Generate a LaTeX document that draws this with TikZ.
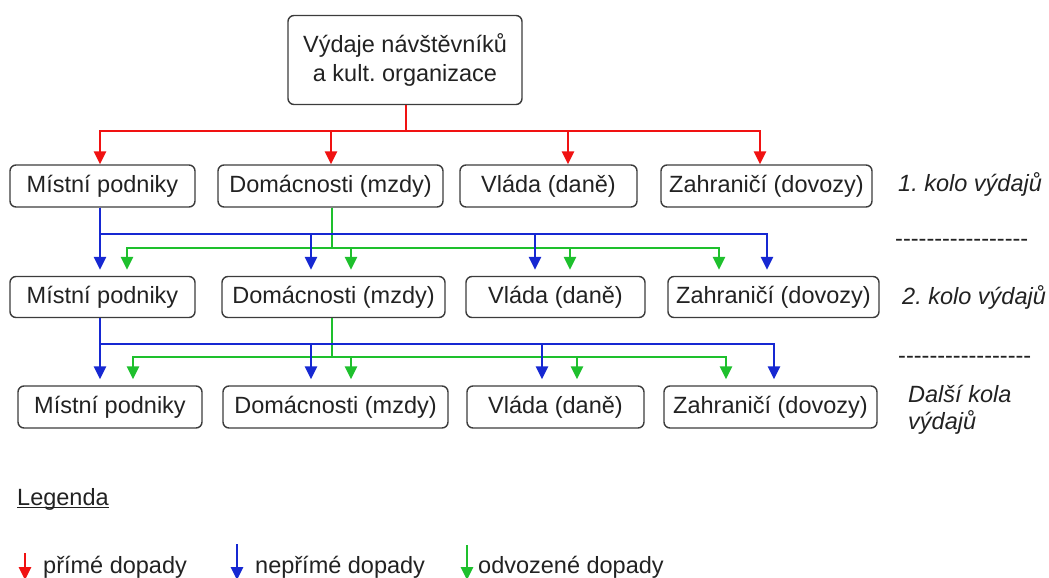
\documentclass[tikz,border=0pt]{standalone}
\usepackage{fontspec}
\setmainfont{Liberation Sans}
\usetikzlibrary{arrows.meta}
\definecolor{cred}{RGB}{240,18,18}
\definecolor{cblue}{RGB}{22,40,210}
\definecolor{cgreen}{RGB}{30,192,45}
\definecolor{ctext}{RGB}{34,34,34}
\definecolor{cframe}{RGB}{60,60,60}
\newcommand\hy{\hbox{-}}
\newcommand\hyline{\hy\hy\hy\hy\hy\hy\hy\hy\hy\hy\hy\hy\hy\hy\hy\hy\hy}
\frenchspacing
\begin{document}
\begin{tikzpicture}[x=1pt,y=-1pt,
  txt/.style={text=ctext, font=\fontsize{23.5}{29}\selectfont\frenchspacing},
  box/.style={txt, draw=cframe, line width=1.4pt, rounded corners=6pt, inner sep=0pt, minimum height=42pt},
  lbl/.style={txt, inner sep=0pt, anchor=base west, font=\fontsize{23.5}{27}\selectfont\itshape\frenchspacing},
  leg/.style={txt, inner sep=0pt, anchor=base west},
  arr/.style={line width=2.9pt, -{Triangle[length=13pt,width=12pt]}},
  rd/.style={arr, draw=cred},
  bl/.style={arr, draw=cblue, shorten >=6pt},
  gr/.style={arr, draw=cgreen, shorten >=6pt},
  lrd/.style={arr, draw=cred},
  lbl2/.style={arr, draw=cblue},
  lgr/.style={arr, draw=cgreen}
]
\useasboundingbox (0,0) rectangle (1049,578);

% top box
\node[box, minimum width=234pt, minimum height=89pt, align=center] (top) at (405,60) {Výdaje návštěvníků\\a kult. organizace};
\path[use as bounding box] (0,0) rectangle (1049,578);

% row 1
\node[box, minimum width=185pt] (A1) at (102.5,186) {Místní podniky};
\node[box, minimum width=225pt] (B1) at (330.5,186) {Domácnosti (mzdy)};
\node[box, minimum width=177pt] (C1) at (548.5,186) {Vláda (daně)};
\node[box, minimum width=211pt] (D1) at (766.5,186) {Zahraničí (dovozy)};
% row 2
\node[box, minimum width=185pt, minimum height=41pt] (A2) at (102.5,297) {Místní podniky};
\node[box, minimum width=223pt, minimum height=41pt] (B2) at (333.5,297) {Domácnosti (mzdy)};
\node[box, minimum width=179pt, minimum height=41pt] (C2) at (555.5,297) {Vláda (daně)};
\node[box, minimum width=211pt, minimum height=41pt] (D2) at (773.5,297) {Zahraničí (dovozy)};
% row 3
\node[box, minimum width=184pt] (A3) at (110,407) {Místní podniky};
\node[box, minimum width=225pt] (B3) at (335.5,407) {Domácnosti (mzdy)};
\node[box, minimum width=177pt] (C3) at (555.5,407) {Vláda (daně)};
\node[box, minimum width=213pt] (D3) at (770.5,407) {Zahraničí (dovozy)};

% right labels
\node[lbl] (k1) at (898,191) {1. kolo výdajů};
\node[leg] (h1) at (895,246) {\hyline};
\node[lbl] (k2) at (902,304) {2. kolo výdajů};
\node[leg] (h2) at (898,363) {\hyline};
\node[lbl, align=left, anchor=north west] (k3) at (908,385) {Další kola\\výdajů};

% red: direct
\coordinate (r0) at (406,131);
\foreach \x/\n in {100/A1,331/B1,568/C1,760/D1}
  \draw[rd] (top.south -| r0) -- (r0) -| (\x,0 |- \n.north);

% round 1 -> 2
\coordinate (g1) at (332,248);
\foreach \x/\n in {127/A2,351/B2,570/C2,719/D2}
  \draw[gr] (332,0 |- B1.south) -- (g1) -| (\x,0 |- \n.north);
\coordinate (b1) at (100,234);
\foreach \x/\n in {100/A2,311/B2,535/C2,767/D2}
  \draw[bl] (100,0 |- A1.south) -- (b1) -| (\x,0 |- \n.north);

% round 2 -> 3
\coordinate (g2) at (332,357);
\foreach \x/\n in {133/A3,351/B3,577/C3,726/D3}
  \draw[gr] (332,0 |- B2.south) -- (g2) -| (\x,0 |- \n.north);
\coordinate (b2) at (100,344);
\foreach \x/\n in {100/A3,311/B3,542/C3,774/D3}
  \draw[bl] (100,0 |- A2.south) -- (b2) -| (\x,0 |- \n.north);

% legend
\node[leg] (lg) at (17,505) {Legenda};
\draw[ctext, line width=1.4pt] ([yshift=-2.5pt]lg.base west) -- ([yshift=-2.5pt]lg.base east);

\coordinate (lr0) at (25,553);
\coordinate (lr1) at (25,580);
\coordinate (lb0) at (237,544);
\coordinate (lb1) at (237,580);
\coordinate (lg0) at (467,545);
\coordinate (lg1) at (467,580);
\draw[lrd] (lr0) -- (lr1);
\draw[lbl2] (lb0) -- (lb1);
\draw[lgr] (lg0) -- (lg1);
\node[leg] (l1) at (43,573) {přímé dopady};
\node[leg] (l2) at (255,573) {nepřímé dopady};
\node[leg] (l3) at (478,573) {odvozené dopady};
\end{tikzpicture}
\end{document}
